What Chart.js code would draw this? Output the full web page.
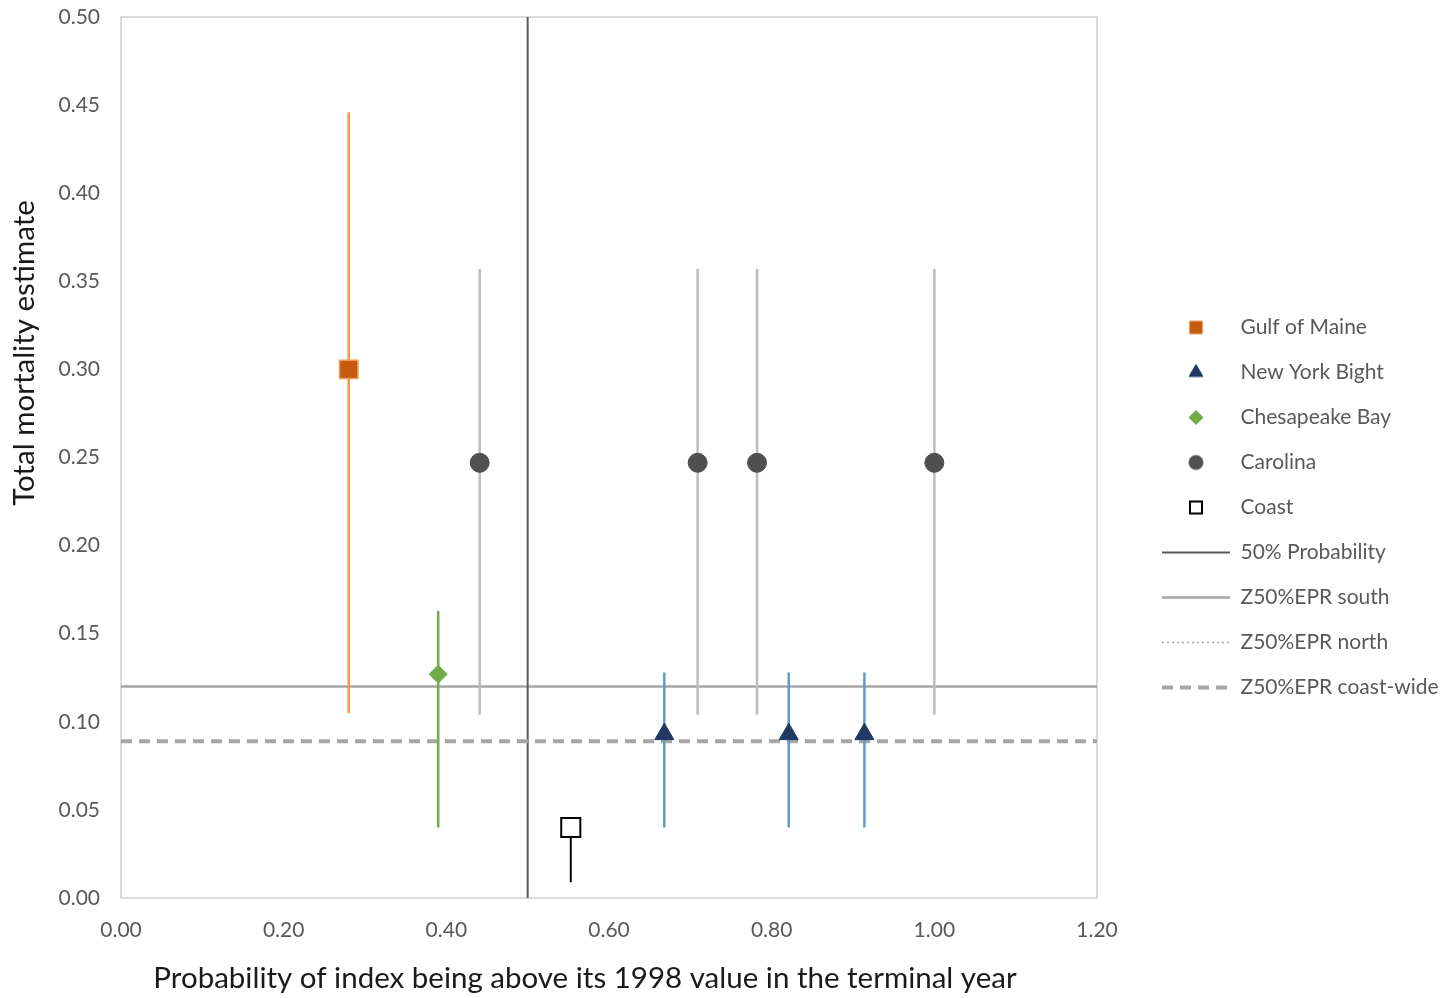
<!DOCTYPE html>
<html>
<head>
<meta charset="utf-8">
<script src="https://cdn.jsdelivr.net/npm/chart.js@4/dist/chart.umd.min.js"></script>
<style>
html,body{margin:0;padding:0;background:#fff;}
#wrap{width:1443px;height:998px;position:relative;}
</style>
</head>
<body>
<div id="wrap"><canvas id="c"></canvas></div>
<script>
// ---- data ----
const gulfX = [0.28];
const gulfY = [0.30];
const gulfLo = [0.105];
const gulfHi = [0.446];

const nybX = [0.668, 0.821, 0.914];
const nybY = [0.093, 0.093, 0.093];
const nybLo = [0.040, 0.040, 0.040];
const nybHi = [0.128, 0.128, 0.128];

const chesX = [0.39];
const chesY = [0.127];
const chesLo = [0.040];
const chesHi = [0.163];

const carX = [0.441, 0.709, 0.782, 1.00];
const carY = [0.247, 0.247, 0.247, 0.247];
const carLo = [0.104, 0.104, 0.104, 0.104];
const carHi = [0.357, 0.357, 0.357, 0.357];

const coastX = [0.553];
const coastY = [0.040];
const coastLo = [0.009];
const coastHi = [0.040];

const prob50X = [0.5, 0.5];
const prob50Y = [0.0, 0.5];
const southX = [0.0, 1.2];
const southY = [0.12, 0.12];
const northX = [];
const northY = [];
const coastwideX = [0.0, 1.2];
const coastwideY = [0.089, 0.089];

const xTicks = [0, 0.2, 0.4, 0.6, 0.8, 1.0, 1.2];
const xTitle = 'Probability of index being above its 1998 value in the terminal year';
const yTitle = 'Total mortality estimate';

// ---- helpers ----
const pts = (xs, ys) => xs.map((x, i) => ({x: x, y: ys[i]}));
const bars = (xs, lo, hi) => {
  const out = [];
  xs.forEach((x, i) => { out.push({x: x, y: lo[i]}, {x: x, y: hi[i]}, {x: x, y: null}); });
  return out;
};
// small legend icon drawn with Chart.js' own point renderer
function icon(style, r, fill, stroke, lw) {
  const cv = document.createElement('canvas');
  cv.width = 22; cv.height = 22;
  const ctx = cv.getContext('2d');
  ctx.fillStyle = fill; ctx.strokeStyle = stroke; ctx.lineWidth = lw;
  Chart.helpers.drawPoint(ctx, {pointStyle: style, radius: r, borderWidth: lw, rotation: 0}, 11, 11);
  return cv;
}

const FONT = "Lato, 'Open Sans', sans-serif";
const TITLE_FONT = "29.5px Lato, 'Open Sans', sans-serif";

const datasets = [
  {label: 'Gulf of Maine', data: pts(gulfX, gulfY), pointStyle: 'rect', pointRadius: 13, pointHoverRadius: 13,
   backgroundColor: '#C55A11', borderColor: '#EE9A5E', borderWidth: 1.5, order: 0,
   legendIcon: ['rect', 9, '#C55A11', '#EE9A5E', 1]},
  {label: 'New York Bight', data: pts(nybX, nybY), pointStyle: 'triangle', pointRadius: 11, pointHoverRadius: 11,
   backgroundColor: '#1F3864', borderColor: '#1F3864', borderWidth: 1, order: 0,
   legendIcon: ['triangle', 8, '#1F3864', '#1F3864', 1]},
  {label: 'Chesapeake Bay', data: pts(chesX, chesY), pointStyle: 'rectRot', pointRadius: 9, pointHoverRadius: 9,
   backgroundColor: '#70AD47', borderColor: '#70AD47', borderWidth: 1, order: 0,
   legendIcon: ['rectRot', 7, '#70AD47', '#70AD47', 1]},
  {label: 'Carolina', data: pts(carX, carY), pointStyle: 'circle', pointRadius: 9.5, pointHoverRadius: 9.5,
   backgroundColor: '#505050', borderColor: '#505050', borderWidth: 1, order: 0,
   legendIcon: ['circle', 7, '#505050', '#505050', 1]},
  {label: 'Coast', data: pts(coastX, coastY), pointStyle: 'rect', pointRadius: 13.5, pointHoverRadius: 13.5,
   backgroundColor: '#FFFFFF', borderColor: '#000000', borderWidth: 2, order: 0,
   legendIcon: ['rect', 8.5, '#FFFFFF', '#000000', 2]},
  {label: '50% Probability', data: pts(prob50X, prob50Y), showLine: true, pointRadius: 0,
   borderColor: '#5A5A5A', borderWidth: 2, order: 3, pointStyle: 'line', legendLine: true},
  {label: 'Z50%EPR south', data: pts(southX, southY), showLine: true, pointRadius: 0,
   borderColor: '#A6A6A6', borderWidth: 2.5, order: 3, pointStyle: 'line', legendLine: true},
  {label: 'Z50%EPR north', data: pts(northX, northY), showLine: true, pointRadius: 0,
   borderColor: '#A6A6A6', borderWidth: 1.5, borderDash: [2, 3], order: 3, pointStyle: 'line', legendLine: true},
  {label: 'Z50%EPR coast-wide', data: pts(coastwideX, coastwideY), showLine: true, pointRadius: 0,
   borderColor: '#A6A6A6', borderWidth: 4, borderDash: [11, 7], order: 2, pointStyle: 'line', legendLine: true},
  // error bars
  {label: 'gulf err', data: bars(gulfX, gulfLo, gulfHi), showLine: true, pointRadius: 0, spanGaps: false,
   borderColor: '#F79646', borderWidth: 2.5, order: 1},
  {label: 'nyb err', data: bars(nybX, nybLo, nybHi), showLine: true, pointRadius: 0, spanGaps: false,
   borderColor: '#5B9BD5', borderWidth: 2.5, order: 1},
  {label: 'ches err', data: bars(chesX, chesLo, chesHi), showLine: true, pointRadius: 0, spanGaps: false,
   borderColor: '#70AD47', borderWidth: 2.5, order: 1},
  {label: 'car err', data: bars(carX, carLo, carHi), showLine: true, pointRadius: 0, spanGaps: false,
   borderColor: '#BDBDBD', borderWidth: 2.5, order: 1},
  {label: 'coast err', data: bars(coastX, coastLo, coastHi), showLine: true, pointRadius: 0, spanGaps: false,
   borderColor: '#000000', borderWidth: 2, order: 1}
];
datasets.forEach(ds => { if (ds.legendIcon) ds._icon = icon(...ds.legendIcon); });

const frame = {
  id: 'frame',
  beforeLayout(chart) {
    const L = chart.legend;
    if (L && !L._patched) {
      const f = L.fit.bind(L);
      L.fit = function () { f(); this.width = 346; };
      L._patched = true;
    }
  },
  afterLayout(chart) {
    if (chart.legend) chart.legend.left += 41;
  },
  beforeDatasetsDraw(chart) {
    const a = chart.chartArea, ctx = chart.ctx;
    ctx.save();
    ctx.strokeStyle = '#CFCFCF';
    ctx.lineWidth = 1.5;
    ctx.strokeRect(a.left, a.top, a.right - a.left, a.bottom - a.top);
    ctx.restore();
  },
  afterDraw(chart) {
    // axis titles, placed where the original puts them (not centred on the axes)
    const a = chart.chartArea, ctx = chart.ctx;
    ctx.save();
    ctx.font = TITLE_FONT;
    ctx.fillStyle = '#1a1a1a';
    ctx.textAlign = 'center';
    ctx.textBaseline = 'middle';
    ctx.fillText(xTitle, a.left + 464, a.bottom + 80);
    ctx.translate(24, a.top + 336);
    ctx.rotate(-Math.PI / 2);
    ctx.fillText(yTitle, 0, 0);
    ctx.restore();
  }
};

new Chart(document.getElementById('c'), {
  type: 'scatter',
  data: {datasets: datasets},
  plugins: [frame],
  options: {
    responsive: true,
    maintainAspectRatio: false,
    animation: false,
    layout: {padding: {top: 17, right: 0, left: 0, bottom: 0}},
    plugins: {
      tooltip: {enabled: false},
      legend: {
        position: 'right',
        labels: {
          usePointStyle: true,
          pointStyleWidth: 68,
          boxHeight: 11,
          padding: 24,
          color: '#595959',
          font: {family: FONT, size: 21},
          generateLabels(chart) {
            return chart.data.datasets.map((ds, i) => ({ds, i}))
              .filter(o => o.ds.legendIcon || o.ds.legendLine)
              .map(({ds, i}) => ({
                text: ds.label,
                fillStyle: ds.backgroundColor || ds.borderColor,
                strokeStyle: ds.borderColor,
                lineWidth: ds.legendLine ? ds.borderWidth : 1,
                lineDash: ds.borderDash || [],
                pointStyle: ds.legendLine ? 'line' : ds._icon,
                fontColor: '#595959',
                hidden: false,
                datasetIndex: i
              }));
          }
        }
      }
    },
    scales: {
      x: {
        type: 'linear', min: 0, max: 1.2,
        grid: {display: false, drawTicks: false}, border: {display: false},
        afterBuildTicks(axis) { axis.ticks = xTicks.map(v => ({value: v})); },
        ticks: {color: '#595959', font: {family: FONT, size: 21}, padding: 20,
          callback: v => Number(v).toFixed(2)},
        title: {display: false},
        afterFit(axis) { axis.height = 100; axis.paddingLeft = 0; axis.paddingRight = 0; }
      },
      y: {
        type: 'linear', min: 0, max: 0.5,
        grid: {display: false, drawTicks: false}, border: {display: false},
        ticks: {stepSize: 0.05, color: '#595959', font: {family: FONT, size: 21}, padding: 21,
          callback: v => Number(v).toFixed(2)},
        title: {display: false},
        afterFit(axis) { axis.width = 121; axis.paddingTop = 0; axis.paddingBottom = 0; }
      }
    }
  }
});
</script>
</body>
</html>
